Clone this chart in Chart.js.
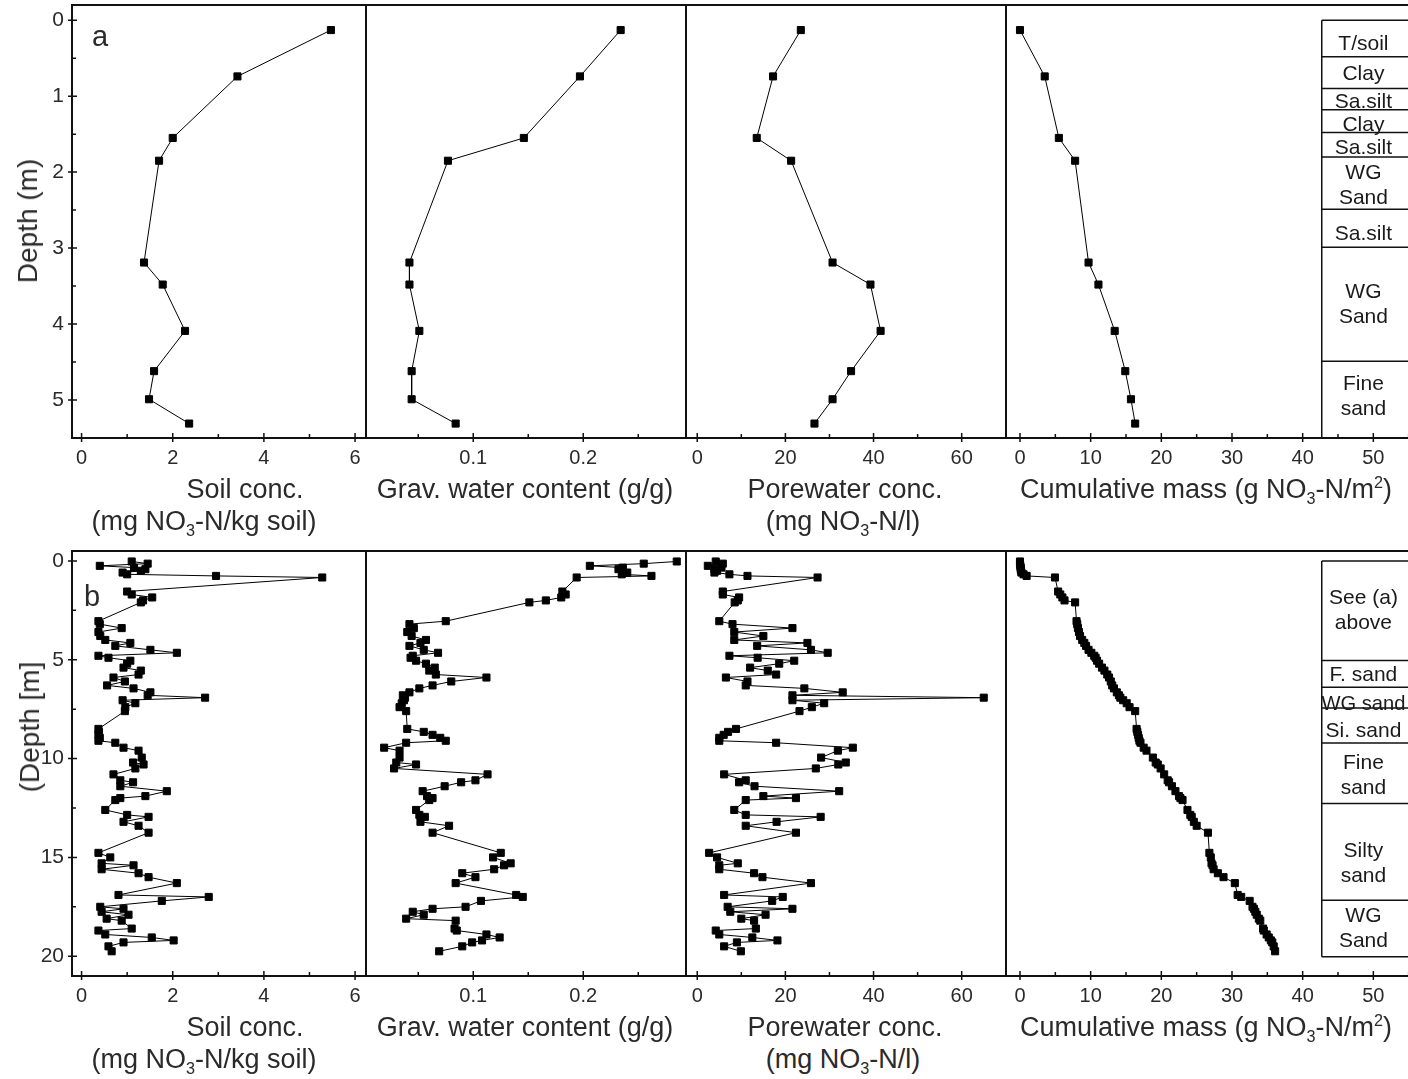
<!DOCTYPE html>
<html>
<head>
<meta charset="utf-8">
<script src="https://cdn.jsdelivr.net/npm/chart.js@4.4.1/dist/chart.umd.min.js"></script>
<style>
html, body { margin: 0; padding: 0; background: #fff; overflow: hidden; }
#fig { position: relative; width: 1408px; height: 1079px; overflow: hidden;
  font-family: "Liberation Sans", Arial, sans-serif; color: #2a2a2a; }
#fig canvas { position: absolute; }
.lab { position: absolute; transform: translate(-50%, -50%); white-space: nowrap;
  font-size: 27px; line-height: 1; }
.rot { transform: translate(-50%, -50%) rotate(-90deg); }
.lab sub, .lab sup { font-size: 60%; line-height: 0; }
</style>
</head>
<body>
<div id="fig"></div>
<script>
// ===== data: (a) upper profile, 0-5.5 m =====
const depthA = [0.13, 0.74, 1.55, 1.85, 3.19, 3.48, 4.09, 4.62, 4.99, 5.31];
const soilA  = [5.47, 3.42, 2.00, 1.70, 1.37, 1.78, 2.27, 1.59, 1.48, 2.36];
const gravA  = [0.234, 0.197, 0.146, 0.077, 0.042, 0.042, 0.051, 0.044, 0.044, 0.084];
const poreA  = [23.5, 17.2, 13.5, 21.3, 30.7, 39.3, 41.6, 34.9, 30.7, 26.6];
const cumA   = [0, 3.5, 5.5, 7.8, 9.7, 11.1, 13.4, 14.9, 15.7, 16.3];

// ===== data: (b) deep profile, 0-20 m =====
const depthB = [
  0.03, 0.14, 0.25, 0.34, 0.42, 0.50, 0.59, 0.68, 0.76, 0.84, 1.55, 1.70, 1.85, 2.00, 2.10,
  3.05, 3.20, 3.40, 3.60, 3.80, 4.00, 4.15, 4.30, 4.50, 4.65, 4.80, 4.90,
  5.05, 5.20, 5.40, 5.55, 5.75, 5.90, 6.10, 6.30, 6.45, 6.65, 6.80, 6.92, 7.05, 7.20, 7.40, 7.60,
  8.50, 8.65, 8.80, 8.95, 9.10, 9.20, 9.45, 9.60, 9.95, 10.20, 10.30, 10.50, 10.80, 11.10, 11.20,
  11.40, 11.65, 11.90, 12.00, 12.10, 12.60, 12.85, 12.95, 13.20, 13.40, 13.75,
  14.77, 15.00, 15.30, 15.40, 15.60, 15.80, 16.00, 16.30, 16.90, 17.00, 17.20, 17.50, 17.60,
  17.75, 17.90, 18.10, 18.20, 18.60, 18.70, 18.90, 19.05, 19.20, 19.30, 19.50, 19.75
];
const soilB = [
  1.10, 1.45, 0.40, 1.15, 1.40, 1.30, 0.90, 1.00, 2.95, 5.28, 1.00, 1.10, 1.55, 1.35, 1.30,
  0.37, 0.40, 0.88, 0.37, 0.41, 0.52, 1.07, 0.74, 1.51, 2.09, 0.37, 0.59,
  1.07, 1.00, 0.92, 1.30, 1.25, 0.70, 0.95, 0.56, 1.14, 1.51, 1.45, 2.71, 0.90, 1.18, 0.96, 0.95,
  0.37, 0.38, 0.37, 0.40, 0.37, 0.74, 0.92, 1.25, 1.32, 1.13, 1.36, 1.18, 0.70, 0.85, 1.13,
  0.85, 1.87, 1.40, 0.85, 0.74, 0.52, 1.00, 1.47, 0.92, 1.25, 1.47,
  0.37, 0.63, 0.44, 1.14, 0.44, 1.25, 1.47, 2.09, 0.81, 2.79, 1.76, 0.41, 0.92,
  0.44, 1.03, 0.55, 0.88, 1.10, 0.37, 0.52, 1.54, 2.02, 0.92, 0.59, 0.66
];
const gravB = [
  0.285, 0.255, 0.206, 0.236, 0.232, 0.236, 0.240, 0.235, 0.262, 0.194, 0.181, 0.184, 0.180, 0.166, 0.151,
  0.075, 0.042, 0.046, 0.040, 0.044, 0.057, 0.052, 0.042, 0.055, 0.068, 0.045, 0.043,
  0.048, 0.057, 0.065, 0.060, 0.066, 0.112, 0.080, 0.063, 0.051, 0.042, 0.036, 0.038, 0.037, 0.035, 0.033, 0.039,
  0.040, 0.055, 0.063, 0.070, 0.075, 0.039, 0.019, 0.033, 0.033, 0.030, 0.048, 0.028, 0.113, 0.102, 0.089,
  0.074, 0.054, 0.058, 0.063, 0.060, 0.048, 0.051, 0.056, 0.052, 0.078, 0.063,
  0.125, 0.118, 0.134, 0.128, 0.119, 0.090, 0.102, 0.084, 0.139, 0.145, 0.107, 0.093, 0.063,
  0.045, 0.055, 0.039, 0.084, 0.083, 0.085, 0.112, 0.124, 0.108, 0.099, 0.090, 0.069
];
const poreB = [
  4.2, 5.8, 2.4, 5.5, 3.9, 4.5, 3.9, 7.3, 11.4, 27.3, 5.8, 5.8, 9.5, 9.2, 8.5,
  5.0, 8.0, 21.6, 8.4, 15.0, 8.4, 25.0, 13.6, 25.8, 29.6, 7.3, 13.7,
  22.0, 18.6, 12.0, 16.0, 17.9, 6.5, 11.4, 11.0, 24.3, 33.0, 21.6, 65.0, 21.6, 28.8, 26.0, 23.2,
  8.8, 7.0, 6.0, 5.0, 5.0, 17.9, 35.3, 31.9, 28.1, 33.7, 32.0, 26.9, 6.1, 11.0, 9.5,
  13.0, 32.2, 15.0, 22.4, 11.0, 8.4, 11.0, 28.0, 18.0, 11.0, 22.4,
  2.7, 4.5, 9.2, 5.0, 5.0, 12.9, 14.8, 25.8, 6.1, 19.4, 17.0, 6.9, 21.6,
  7.5, 15.5, 10.0, 12.9, 13.3, 4.2, 5.0, 12.5, 18.2, 9.0, 6.1, 9.9
];
const cumB = [
  0, 0, 0.05, 0.1, 0.1, 0.15, 0.2, 0.5, 0.94, 4.95, 5.4, 5.7, 6.0, 6.3, 7.8,
  8.0, 8.1, 8.2, 8.35, 8.5, 8.8, 9.1, 9.35, 9.7, 10.1, 10.5, 10.7,
  10.9, 11.2, 11.6, 11.95, 12.35, 12.6, 12.85, 13.05, 13.3, 13.7, 14.0, 14.2, 14.6, 15.1, 15.5, 16.3,
  16.5, 16.6, 16.7, 16.8, 16.9, 17.05, 17.5, 17.9, 18.8, 19.2, 19.5, 19.9, 20.4, 20.9, 21.1,
  21.5, 22.0, 22.5, 22.7, 23.0, 23.7, 24.1, 24.3, 24.6, 25.0, 26.6,
  26.8, 27.0, 27.1, 27.25, 27.4, 28.0, 28.8, 30.4, 30.8, 31.3, 32.5, 32.9, 33.1,
  33.3, 33.5, 33.8, 34.0, 34.4, 34.5, 34.9, 35.2, 35.5, 35.7, 35.9, 36.1
];

// ===== lithology columns =====
const lithoBoundsA = [0, 0.48, 0.90, 1.18, 1.48, 1.80, 2.49, 2.99, 4.49, 5.5];
const lithoLabelsA = ["T/soil", "Clay", "Sa.silt", "Clay", "Sa.silt", "WG|Sand", "Sa.silt", "WG|Sand", "Fine|sand"];
const lithoBoundsB = [0, 5.04, 6.39, 7.44, 9.21, 12.27, 17.17, 20.03];
const lithoLabelsB = ["See (a)|above", "F. sand", "WG sand", "Si. sand", "Fine|sand", "Silty|sand", "WG|Sand"];
// label nudges in px (text is not always centred in its box)
const lithoShiftA = [6, 2, 3, 4, 3, 3, 6, 0, -3];
const lithoShiftB = [0, 1, 7, 6, 3, 12, 0];

// ===== axes: ranges and ticks =====
const X_RANGE = [[-0.21, 6.24], [0.0025, 0.2934], [-2.55, 70.05], [-1.98, 56.32]];
const X_MAJOR = [[0, 2, 4, 6], [0.1, 0.2], [0, 20, 40, 60], [0, 10, 20, 30, 40, 50]];
const X_MINOR = [[1, 3, 5], [0.05, 0.15, 0.25], [10, 30, 50], [5, 15, 25, 35, 45, 55]];
const Y_RANGE = [[-0.2, 5.5], [-0.5, 21]];
const Y_MAJOR = [[0, 1, 2, 3, 4, 5], [0, 5, 10, 15, 20]];
const Y_MINOR = [[0.5, 1.5, 2.5, 3.5, 4.5], [2.5, 7.5, 12.5, 17.5]];

// ===== page layout (px) =====
const ROWS = [{ top: 5, bottom: 438 }, { top: 551, bottom: 976 }];
const PANEL_X = [[72, 366], [366, 686], [686, 1006], [1006, 1418]];
const LITHO_LEFT = 42.7;   // x value on the cumulative axis where the column starts
const LITHO_TEXT = 48.6;

Chart.defaults.font.family = '"Liberation Sans", Arial, sans-serif';
Chart.defaults.font.size = 20;
Chart.defaults.color = "#2a2a2a";

const fig = document.getElementById("fig");

// frame, inward ticks and lithology column
const framePlugin = {
  id: "frame",
  afterDraw(chart, args, o) {
    const { ctx, chartArea: a, scales: { x, y } } = chart;
    ctx.save();
    ctx.strokeStyle = "#111";
    ctx.lineWidth = 2;
    ctx.strokeRect(a.left, a.top, a.right - a.left, a.bottom - a.top);

    ctx.lineWidth = 1.5;
    ctx.beginPath();
    const inX = v => v >= x.min && v <= x.max;
    o.xMajor.filter(inX).forEach(v => {
      const p = x.getPixelForValue(v);
      ctx.moveTo(p, a.bottom - 5); ctx.lineTo(p, a.bottom + 4);
    });
    o.xMinor.filter(inX).forEach(v => {
      const p = x.getPixelForValue(v);
      ctx.moveTo(p, a.bottom - 4); ctx.lineTo(p, a.bottom);
    });
    if (o.yTicks) {
      o.yMajor.forEach(v => {
        const p = y.getPixelForValue(v);
        ctx.moveTo(a.left - 4, p); ctx.lineTo(a.left + 5, p);
      });
      o.yMinor.forEach(v => {
        const p = y.getPixelForValue(v);
        ctx.moveTo(a.left, p); ctx.lineTo(a.left + 4, p);
      });
    }
    ctx.stroke();

    if (o.litho) {
      const L = o.litho;
      const left = x.getPixelForValue(LITHO_LEFT);
      const cx = x.getPixelForValue(LITHO_TEXT);
      const py = L.bounds.map(b => y.getPixelForValue(b));
      ctx.lineWidth = 1.5;
      ctx.beginPath();
      ctx.moveTo(left, py[0]); ctx.lineTo(left, py[py.length - 1]);
      py.forEach(p => { ctx.moveTo(left, p); ctx.lineTo(a.right, p); });
      ctx.stroke();
      ctx.fillStyle = "#1a1a1a";
      ctx.font = '21px "Liberation Sans", Arial, sans-serif';
      ctx.textAlign = "center";
      ctx.textBaseline = "middle";
      L.labels.forEach((lab, i) => {
        const lines = lab.split("|");
        const mid = (py[i] + py[i + 1]) / 2 + (L.shift[i] || 0);
        lines.forEach((t, j) => {
          ctx.fillText(t, cx, mid + (j - (lines.length - 1) / 2) * 25, 84);
        });
      });
    }
    ctx.restore();
  }
};

function makePanel(row, col, depths, values, litho) {
  const [pl, pr] = PANEL_X[col];
  const { top, bottom } = ROWS[row];
  const padT = 12, padR = 12, axisH = 40;
  const padL = col === 0 ? 0 : 12;
  const left = col === 0 ? 0 : pl - padL;

  const canvas = document.createElement("canvas");
  canvas.width = pr - left + padR;
  canvas.height = bottom - top + padT + axisH;
  canvas.style.left = left + "px";
  canvas.style.top = (top - padT) + "px";
  fig.appendChild(canvas);

  const pts = depths.map((d, i) => ({ x: values[i], y: d }));

  const yScale = {
    type: "linear",
    reverse: true,
    display: col === 0,
    min: Y_RANGE[row][0], max: Y_RANGE[row][1],
    afterBuildTicks: s => { s.ticks = Y_MAJOR[row].map(v => ({ value: v })); },
    ticks: { padding: 8, autoSkip: false, font: { size: 21 }, callback: v => String(v) },
    grid: { display: false, drawTicks: false },
    border: { display: false }
  };
  if (col === 0) {
    yScale.afterFit = s => { s.width = pl; s.paddingTop = 0; s.paddingBottom = 0; };
  }

  new Chart(canvas, {
    type: "scatter",
    data: {
      datasets: [{
        data: pts,
        showLine: true,
        borderColor: "#000",
        borderWidth: 1,
        pointStyle: "rect",
        pointRadius: 5,
        pointBorderWidth: 1,
        pointBackgroundColor: "#000",
        pointBorderColor: "#000"
      }]
    },
    options: {
      responsive: false,
      animation: false,
      devicePixelRatio: 1,
      layout: { padding: { left: padL, right: padR, top: padT, bottom: 0 } },
      scales: {
        x: {
          type: "linear",
          min: X_RANGE[col][0], max: X_RANGE[col][1],
          afterBuildTicks: s => { s.ticks = X_MAJOR[col].map(v => ({ value: v })); },
          afterFit: s => { s.height = axisH; s.paddingLeft = 0; s.paddingRight = 0; },
          ticks: { padding: 8, maxRotation: 0, autoSkip: false, font: { size: 20 }, callback: v => String(v) },
          grid: { display: false, drawTicks: false },
          border: { display: false }
        },
        y: yScale
      },
      plugins: {
        legend: { display: false },
        tooltip: { enabled: false },
        frame: {
          xMajor: X_MAJOR[col], xMinor: X_MINOR[col],
          yMajor: Y_MAJOR[row], yMinor: Y_MINOR[row],
          yTicks: col === 0,
          litho: litho || null
        }
      }
    },
    plugins: [framePlugin]
  });
}

makePanel(0, 0, depthA, soilA);
makePanel(0, 1, depthA, gravA);
makePanel(0, 2, depthA, poreA);
makePanel(0, 3, depthA, cumA, { bounds: lithoBoundsA, labels: lithoLabelsA, shift: lithoShiftA });
makePanel(1, 0, depthB, soilB);
makePanel(1, 1, depthB, gravB);
makePanel(1, 2, depthB, poreB);
makePanel(1, 3, depthB, cumB, { bounds: lithoBoundsB, labels: lithoLabelsB, shift: lithoShiftB });

// ===== axis titles and panel letters =====
const X_TITLES = [
  [["Soil conc.", 245], ["(mg NO<sub>3</sub>-N/kg soil)", 204]],
  [["Grav. water content (g/g)", 525]],
  [["Porewater conc.", 845], ["(mg NO<sub>3</sub>-N/l)", 843]],
  [["Cumulative mass (g NO<sub>3</sub>-N/m<sup>2</sup>)", 1206]]
];

function addLabel(html, x, y, cls, size) {
  const d = document.createElement("div");
  d.className = "lab" + (cls ? " " + cls : "");
  d.innerHTML = html;
  d.style.left = x + "px";
  d.style.top = y + "px";
  if (size) d.style.fontSize = size + "px";
  fig.appendChild(d);
}

ROWS.forEach(r => {
  X_TITLES.forEach(lines => {
    lines.forEach(([t, x], j) => addLabel(t, x, r.bottom + 51 + j * 32));
  });
});
addLabel("Depth (m)", 28, 221, "rot", 28);
addLabel("(Depth [m]", 30, 727, "rot", 28);
addLabel("a", 100, 36, "", 29);
addLabel("b", 92, 596, "", 29);
</script>
</body>
</html>
